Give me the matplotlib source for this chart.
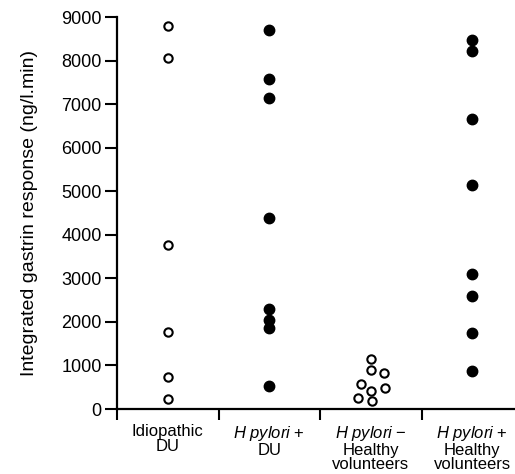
import matplotlib

matplotlib.use("Agg")
import matplotlib.pyplot as plt

plt.rcParams["font.family"] = ["Liberation Sans", "DejaVu Sans"]
plt.rcParams["mathtext.fontset"] = "custom"
plt.rcParams["mathtext.rm"] = "Liberation Sans"
plt.rcParams["mathtext.it"] = "Liberation Sans:italic"

# Group labels (x axis)
groups = [
    "Idiopathic\nDU",
    "$\\it{H\\ pylori}$ +\nDU",
    "$\\it{H\\ pylori}$ \u2212\nHealthy\nvolunteers",
    "$\\it{H\\ pylori}$ +\nHealthy\nvolunteers",
]

# Integrated gastrin response (ng/l.min)
idiopathic_du = [8790, 8060, 3770, 1770, 730, 240]
hp_pos_du = [8700, 7580, 7150, 4390, 2300, 2040, 1860, 530]
hp_neg_healthy = [1150, 890, 830, 570, 420, 490, 260, 190]
hp_neg_offsets = [0.0, 0.0, 0.13, -0.10, 0.0, 0.14, -0.13, 0.01]
hp_pos_healthy = [8470, 8230, 6660, 5140, 3100, 2600, 1750, 870]

fig = plt.figure(figsize=(5.15, 4.74), dpi=100)
ax = fig.add_axes([0.2272, 0.1371, 0.7728, 0.827])

open_kw = dict(linestyle="none", marker="o", markersize=6, markerfacecolor="white",
               markeredgecolor="black", markeredgewidth=1.5, clip_on=False)
fill_kw = dict(linestyle="none", marker="o", markersize=7.5, color="black", clip_on=False)

ax.plot([0.5] * len(idiopathic_du), idiopathic_du, **open_kw)
ax.plot([1.5] * len(hp_pos_du), hp_pos_du, **fill_kw)
ax.plot([2.5 + o for o in hp_neg_offsets], hp_neg_healthy, **open_kw)
ax.plot([3.5] * len(hp_pos_healthy), hp_pos_healthy, **fill_kw)

ax.set_xlim(0, 3.92)
ax.set_ylim(0, 9000)

ax.set_yticks(range(0, 9001, 1000))
ax.tick_params(axis="y", direction="out", length=9, width=1.5, labelsize=13, pad=2)

ax.set_xticks([0, 1, 2, 3])
ax.set_xticklabels([])
ax.tick_params(axis="x", which="major", direction="out", length=8, width=1.5)
ax.set_xticks([0.5, 1.5, 2.5, 3.5], minor=True)
ax.set_xticklabels(groups, minor=True, linespacing=0.95)
ax.tick_params(axis="x", which="minor", length=0, labelsize=12, pad=11)

ax.set_ylabel("Integrated gastrin response (ng/l.min)", fontsize=14, labelpad=17)

for side in ("top", "right"):
    ax.spines[side].set_visible(False)
for side in ("left", "bottom"):
    ax.spines[side].set_linewidth(1.6)

fig.savefig("out.png", dpi=100)
